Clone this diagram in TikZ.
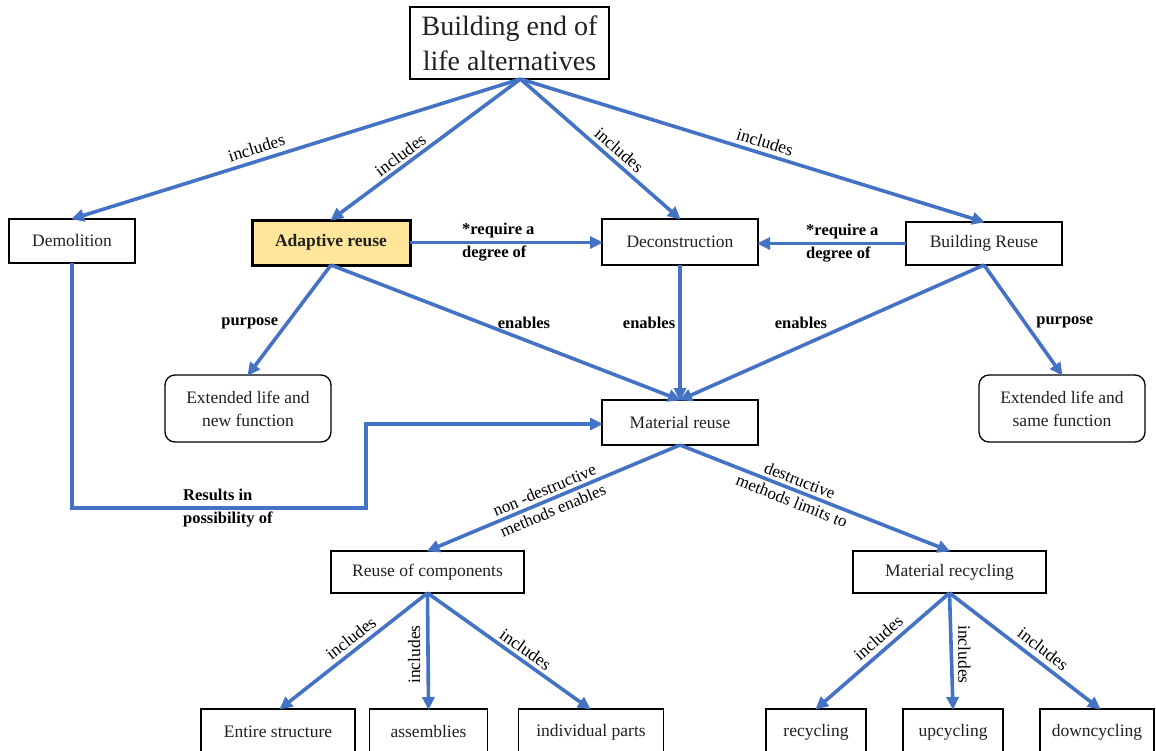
\documentclass[tikz,border=0pt]{standalone}
\usepackage{fontspec}
\setmainfont{Liberation Serif}
\usetikzlibrary{arrows.meta,calc}
\definecolor{flow}{HTML}{4472C4}
\definecolor{hilite}{HTML}{FFE699}
\definecolor{ink}{HTML}{202020}

\begin{document}
\begin{tikzpicture}[x=1pt,y=-1pt,
  box/.style={draw=black, line width=1.3pt, text=ink, inner sep=2pt, outer sep=0pt,
    align=center, font=\fontsize{17.5}{23}\selectfont},
  roundbox/.style={box, rounded corners=10pt},
  keybox/.style={box, fill=hilite, line width=3pt, font=\fontsize{17.5}{23}\selectfont\bfseries},
  arr/.style={draw=flow, line width=3.6pt,
    -{Triangle[length=13pt,width=12pt]}, shorten >=-1pt},
  lbl/.style={font=\fontsize{17.5}{21}\selectfont, text=black, inner sep=1pt},
  blbl/.style={font=\fontsize{16.5}{23}\selectfont\bfseries, text=black, inner sep=1pt, align=left},
]
\useasboundingbox (0,0) rectangle (1156,750);
\clip (0,0) rectangle (1156,750);

% ---- boxes ----
\node[box, minimum width=199, minimum height=72, font=\fontsize{28}{35}\selectfont]
  (title) at (509.5,43) {Building end of\\life alternatives};
\node[box, minimum width=126, minimum height=44] (demo) at (72,241) {Demolition};
\node[keybox, minimum width=158, minimum height=45] (adapt) at (331,242.5) {Adaptive reuse};
\node[box, minimum width=156, minimum height=46] (decon) at (680,242) {Deconstruction};
\node[box, minimum width=156, minimum height=43] (bre) at (984,243.5) {Building Reuse};
\node[roundbox, minimum width=166, minimum height=67] (ext1) at (248,408.5)
  {Extended life and\\new function};
\node[box, minimum width=156, minimum height=45] (matre) at (680,422.5) {Material reuse};
\node[roundbox, minimum width=166, minimum height=67] (ext2) at (1062,408.5)
  {Extended life and\\same function};
\node[box, minimum width=193, minimum height=42] (rc) at (427.5,572) {Reuse of components};
\node[box, minimum width=193, minimum height=42] (mrec) at (949.5,572) {Material recycling};
\node[box, minimum width=154, minimum height=46] (es) at (278,732) {Entire structure};
\node[box, minimum width=118, minimum height=46] (asm) at (428.5,732) {assemblies};
\node[box, minimum width=145, minimum height=46] (ip) at (591,732) {individual parts};
\node[box, minimum width=100, minimum height=46] (recy) at (816,732) {recycling};
\node[box, minimum width=100, minimum height=46] (upc) at (953,732) {upcycling};
\node[box, minimum width=114, minimum height=46] (down) at (1097,732) {downcycling};

% ---- connectors from the title ----
\coordinate (tb) at ($(title.south)+(11,0)$);
\draw[arr] (tb) -- node[lbl, pos=.58, sloped, above=4pt] {includes} (demo.north);
\draw[arr] (tb) -- node[lbl, pos=.6, sloped, above=2pt] {includes} (adapt.north);
\draw[arr] (tb) -- node[lbl, pos=.57, sloped, above=3pt] {includes} (decon.north);
\draw[arr] (tb) -- node[lbl, pos=.52, sloped, above=3pt] {includes} (bre.north);

% ---- second row ----
\draw[arr] (adapt.east) -- node[blbl, pos=.46] {*require a\\degree of} (adapt.east -| decon.west);
\draw[arr] (bre.west) -- node[blbl, pos=.43] {*require a\\degree of} (bre.west -| decon.east);

\draw[arr] (adapt.south) -- node[blbl, pos=.53, left=6pt] {purpose} (ext1.north);
\draw[arr] (adapt.south) -- node[blbl, pos=.553, yshift=17pt] {enables} (matre.north);
\draw[arr] (decon.south) -- node[blbl, pos=.43, left=2pt] {enables} (matre.north);
\draw[arr] (bre.south) -- node[blbl, pos=.602, yshift=23pt] {enables} (matre.north);
\draw[arr] (bre.south) -- node[blbl, pos=.52, right=9pt] {purpose} (ext2.north);

% ---- demolition route ----
\coordinate (bendA) at (366,508);
\coordinate (bendB) at (366,424);
\coordinate (bend0) at (demo.south |- bendA);
\draw[arr] (demo.south) -- (bend0)
  -- node[blbl, pos=.53] {Results in\\possibility of} (bendA)
  -- (bendB) -- (bendB -| matre.west);

% ---- material reuse split ----
\draw[arr] (matre.south) -- node[lbl, pos=.52, sloped, align=center,
  font=\fontsize{17}{22}\selectfont] {non -destructive\\methods enables} (rc.north);
\draw[arr] (matre.south) -- node[lbl, pos=.43, sloped, align=center,
  font=\fontsize{17}{22}\selectfont] {destructive\\methods limits to} (mrec.north);

% ---- bottom level ----
\draw[arr] (rc.south) -- node[lbl, pos=.47, sloped, above=3pt] {includes} ($(es.north)+(2,0)$);
\draw[arr] (rc.south) -- node[lbl, pos=.53, xshift=-14pt, rotate=90] {includes} (asm.north);
\draw[arr] (rc.south) -- node[lbl, pos=.565, sloped, above=2pt] {includes} ($(ip.north)+(-1,0)$);

\draw[arr] (mrec.south) -- node[lbl, pos=.47, sloped, above=4pt] {includes} (recy.north);
\draw[arr] (mrec.south) -- node[lbl, pos=.53, xshift=13pt, rotate=-90] {includes} (upc.north);
\draw[arr] (mrec.south) -- node[lbl, pos=.57, sloped, above=4pt] {includes} ($(down.north)+(3,0)$);
\end{tikzpicture}
\end{document}
